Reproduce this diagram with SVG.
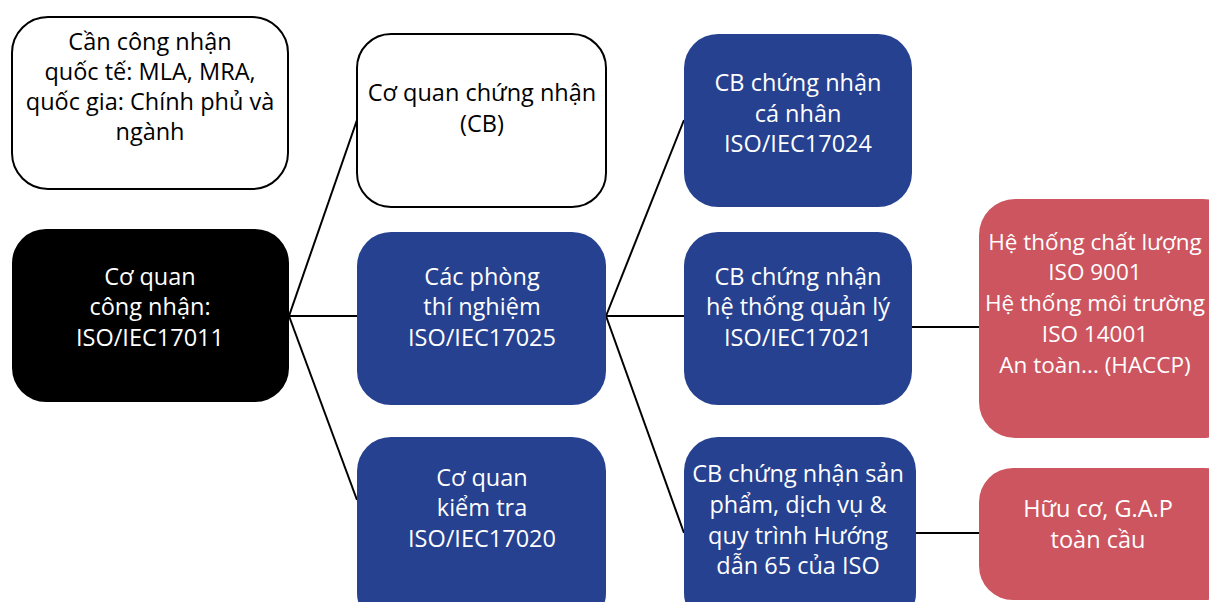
<svg xmlns="http://www.w3.org/2000/svg" width="1209" height="602" viewBox="0 0 1209 602">
<style>
.w{fill:#fff;stroke:#000;stroke-width:2}
.k{fill:#000}
.b{fill:#26418f}
.r{fill:#cc555f}
text{font-family:"Open Sans","Liberation Sans",sans-serif;font-size:23.5px;text-anchor:middle}
.tw{fill:#fff}
.tk{fill:#000}
.sm{font-size:22.5px}
.c{stroke:#000;stroke-width:2;fill:none}
</style>
<rect width="1209" height="602" fill="#fff"/>
<g id="connectors">
<line class="c" x1="289" y1="316" x2="357" y2="120"/>
<line class="c" x1="289" y1="316" x2="357" y2="316"/>
<line class="c" x1="289" y1="316" x2="357" y2="500"/>
<line class="c" x1="606" y1="316" x2="684" y2="120"/>
<line class="c" x1="606" y1="316" x2="684" y2="316"/>
<line class="c" x1="606" y1="316" x2="684" y2="533"/>
<line class="c" x1="911" y1="327" x2="979" y2="327"/>
<line class="c" x1="915" y1="533" x2="979" y2="533"/>
</g>
<g id="note">
<rect class="w" x="12" y="17" width="276" height="172" rx="36"/>
<text class="tk" x="150" y="50">Cần công nhận</text>
<text class="tk" x="150" y="80">quốc tế: MLA, MRA,</text>
<text class="tk" x="150" y="110">quốc gia: Chính phủ và</text>
<text class="tk" x="150" y="140">ngành</text>
</g>
<g id="accreditation">
<rect class="k" x="12" y="229" width="277" height="173" rx="34"/>
<text class="tw" x="150" y="285">Cơ quan</text>
<text class="tw" x="150" y="315">công nhận:</text>
<text class="tw" x="150" y="346">ISO/IEC17011</text>
</g>
<g id="cb">
<rect class="w" x="357" y="34" width="249" height="173" rx="34"/>
<text class="tk" x="482" y="101">Cơ quan chứng nhận</text>
<text class="tk" x="482" y="132">(CB)</text>
</g>
<g id="labs">
<rect class="b" x="357" y="232" width="249" height="173" rx="34"/>
<text class="tw" x="482" y="285">Các phòng</text>
<text class="tw" x="482" y="315">thí nghiệm</text>
<text class="tw" x="482" y="346">ISO/IEC17025</text>
</g>
<g id="inspection">
<rect class="b" x="357" y="437" width="249" height="190" rx="34"/>
<text class="tw" x="482" y="486">Cơ quan</text>
<text class="tw" x="482" y="516">kiểm tra</text>
<text class="tw" x="482" y="547">ISO/IEC17020</text>
</g>
<g id="cb-person">
<rect class="b" x="684" y="34" width="228" height="173" rx="34"/>
<text class="tw" x="798" y="91">CB chứng nhận</text>
<text class="tw" x="798" y="122">cá nhân</text>
<text class="tw" x="798" y="152">ISO/IEC17024</text>
</g>
<g id="cb-system">
<rect class="b" x="684" y="232" width="228" height="173" rx="34"/>
<text class="tw" x="798" y="285">CB chứng nhận</text>
<text class="tw" x="798" y="315">hệ thống quản lý</text>
<text class="tw" x="798" y="346">ISO/IEC17021</text>
</g>
<g id="cb-product">
<rect class="b" x="684" y="437" width="232" height="190" rx="34"/>
<text class="tw" x="798" y="482">CB chứng nhận sản</text>
<text class="tw" x="798" y="513">phẩm, dịch vụ &amp;</text>
<text class="tw" x="798" y="544">quy trình Hướng</text>
<text class="tw" x="798" y="574">dẫn 65 của ISO</text>
</g>
<g id="systems">
<rect class="r" x="979" y="199" width="260" height="239" rx="36"/>
<text class="tw sm" x="1095" y="250">Hệ thống chất lượng</text>
<text class="tw sm" x="1095" y="280">ISO 9001</text>
<text class="tw sm" x="1095" y="311">Hệ thống môi trường</text>
<text class="tw sm" x="1095" y="342">ISO 14001</text>
<text class="tw sm" x="1095" y="373">An toàn... (HACCP)</text>
</g>
<g id="organic">
<rect class="r" x="979" y="468" width="260" height="132" rx="34"/>
<text class="tw" x="1098" y="517">Hữu cơ, G.A.P</text>
<text class="tw" x="1098" y="548">toàn cầu</text>
</g>
</svg>
